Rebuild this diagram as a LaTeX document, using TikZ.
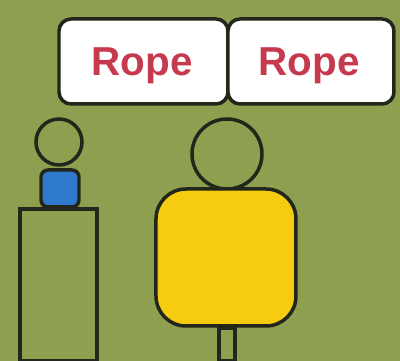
\documentclass[tikz,border=0pt]{standalone}
\usepackage{fontspec}
\setmainfont{Liberation Sans}
\usepackage{xcolor}
\definecolor{fieldgreen}{HTML}{8E9F50}
\definecolor{ropered}{HTML}{C63A50}
\definecolor{bodyyellow}{HTML}{F6CC10}
\definecolor{headblue}{HTML}{2E78CE}
\definecolor{inkline}{HTML}{23261A}
\tikzset{
  outline/.style={draw=inkline, line width=0.07cm},
  ropebox/.style={outline, fill=white, rounded corners=0.24cm},
  ropelabel/.style={text=ropered, font=\bfseries\fontsize{23}{23}\selectfont},
}

\begin{document}
\begin{tikzpicture}[x=0.02cm, y=-0.02cm]
  \useasboundingbox (0,0) rectangle (400,361);
  \fill[fieldgreen] (0,0) rectangle (400,361);

  % rope signs
  \draw[ropebox] (59,19) rectangle (228,104);
  \draw[ropebox] (228,19) rectangle (394,104);
  \node[ropelabel] (ropeleft) at (142,66) {Rope};
  \node[ropelabel] (roperight) at (309,66) {Rope};

  % small figure
  \draw[outline] (59,142) circle (23);
  \draw[outline, fill=headblue, rounded corners=0.14cm] (41,170) rectangle (79,207);
  \draw[outline] (20,209) rectangle (97,361);

  % large figure
  \draw[outline] (227,154) circle (35);
  \draw[outline, fill=bodyyellow, rounded corners=0.6cm] (156,189) rectangle (296,326);
  \draw[outline] (219,328) rectangle (235,361);
\end{tikzpicture}
\end{document}
